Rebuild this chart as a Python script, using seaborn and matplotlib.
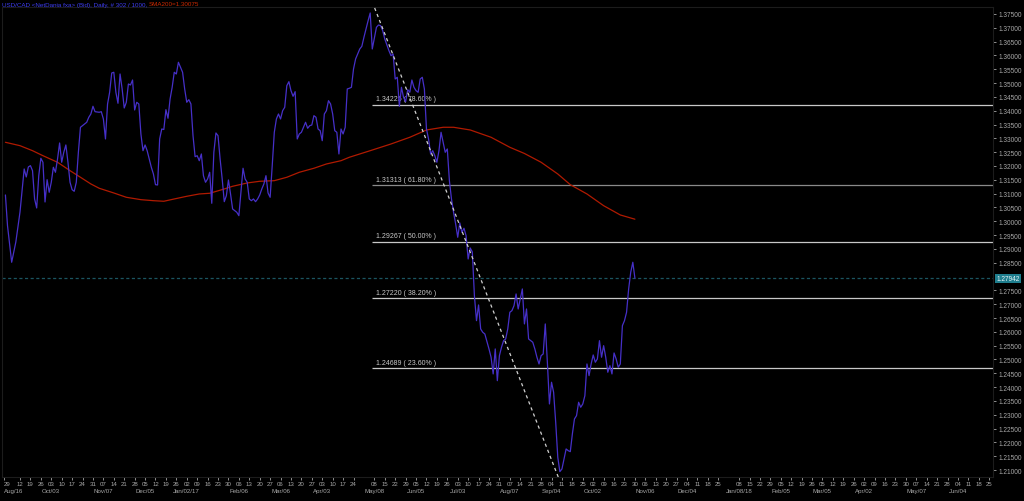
import numpy as np
import pandas as pd
import matplotlib
matplotlib.use('Agg')
import matplotlib.pyplot as plt
import seaborn as sns

# trading-day index (0 = Mon 2016-08-29) and daily close
bars = [3, 4, 6, 8, 10, 12, 13, 14, 15, 16, 17, 18, 19, 20, 21, 22, 23, 24, 25, 26,
        27, 28, 29, 30, 31, 32, 33, 34, 35, 36, 37, 38, 39, 41, 42, 43, 44, 45, 46, 48,
        49, 50, 51, 52, 53, 54, 55, 56, 57, 58, 59, 60, 61, 62, 63, 64, 65, 66, 67, 68,
        69, 70, 71, 72, 73, 74, 75, 76, 77, 78, 79, 80, 81, 82, 83, 84, 85, 86, 88, 89,
        90, 91, 92, 93, 94, 95, 96, 97, 98, 99, 100, 101, 102, 103, 104, 105, 106, 107, 108, 109,
        110, 111, 112, 113, 114, 115, 116, 117, 118, 119, 120, 121, 122, 123, 124, 125, 126, 127, 128, 129,
        130, 131, 132, 133, 134, 135, 136, 137, 138, 139, 140, 141, 142, 143, 144, 145, 146, 147, 148, 149,
        150, 151, 152, 153, 154, 155, 156, 157, 158, 159, 160, 161, 162, 163, 164, 165, 166, 167, 168, 169,
        170, 171, 173, 174, 175, 176, 177, 178, 179, 181, 182, 183, 184, 185, 187, 188, 189, 190, 191, 192,
        193, 194, 195, 196, 197, 198, 199, 200, 201, 202, 203, 204, 205, 206, 207, 208, 209, 210, 211, 212,
        213, 214, 215, 216, 217, 218, 219, 220, 221, 222, 223, 224, 225, 226, 227, 228, 229, 230, 231, 232,
        233, 235, 236, 237, 238, 239, 240, 241, 242, 243, 244, 245, 246, 247, 248, 249, 250, 251, 252, 253,
        254, 255, 256, 257, 258, 259, 260, 261, 262, 263, 264, 265, 266, 267, 268, 269, 270, 271, 272, 273,
        274, 275, 276, 277, 278, 279, 280, 281, 282, 283, 284, 285, 286, 287, 288, 289, 290, 291, 292, 293,
        294, 295, 296, 297, 298, 299, 300, 301, 302, 303, 304, 305]
closes = [1.30952, 1.29841, 1.28517, 1.29251, 1.30337, 1.31892, 1.31603, 1.31965, 1.32012, 1.31831,
          1.30807, 1.30481, 1.31650, 1.32279, 1.32135, 1.30698, 1.31505, 1.31049, 1.31411, 1.31954,
          1.31773, 1.32254, 1.32833, 1.32135, 1.32496, 1.32761, 1.32135, 1.31411, 1.31143, 1.31085,
          1.31411, 1.32496, 1.33401, 1.33520, 1.33582, 1.33763, 1.33882, 1.34161, 1.33965, 1.33944,
          1.33965, 1.33701, 1.32978, 1.34244, 1.34667, 1.35365, 1.35391, 1.34667, 1.34269, 1.35329,
          1.34787, 1.34099, 1.34305, 1.34967, 1.34931, 1.35112, 1.34027, 1.34305, 1.34244, 1.33159,
          1.32554, 1.32761, 1.32554, 1.32254, 1.31954, 1.31711, 1.31324, 1.31313, 1.32978, 1.33339,
          1.33320, 1.34038, 1.33727, 1.34425, 1.34848, 1.35391, 1.35329, 1.35753, 1.35391, 1.34787,
          1.34305, 1.34399, 1.34244, 1.33097, 1.32337, 1.32373, 1.32192, 1.32435, 1.31650, 1.31411,
          1.31530, 1.31773, 1.30651, 1.32496, 1.33195, 1.33097, 1.32254, 1.31530, 1.30709, 1.30926,
          1.31494, 1.30988, 1.30445, 1.30384, 1.30326, 1.30203, 1.31049, 1.31918, 1.31530, 1.31411,
          1.30807, 1.30745, 1.30807, 1.30709, 1.30807, 1.30952, 1.31169, 1.31350, 1.31650, 1.31024,
          1.30868, 1.32012, 1.33220, 1.33701, 1.33882, 1.33701, 1.34001, 1.34124, 1.34906, 1.35051,
          1.34725, 1.34522, 1.34689, 1.32978, 1.33159, 1.33220, 1.33401, 1.33582, 1.33365, 1.33459,
          1.33484, 1.33821, 1.33763, 1.33339, 1.33278, 1.32916, 1.33882, 1.34001, 1.34363, 1.34244,
          1.33882, 1.33278, 1.33220, 1.32435, 1.33339, 1.33159, 1.33401, 1.34787, 1.34812, 1.34848,
          1.35510, 1.35872, 1.36234, 1.36331, 1.36657, 1.36957, 1.37258, 1.37536, 1.36234, 1.37019,
          1.37102, 1.37077, 1.36896, 1.36596, 1.36172, 1.35991, 1.36053, 1.35148, 1.35210, 1.34161,
          1.34848, 1.34486, 1.34327, 1.34761, 1.34667, 1.35112, 1.34848, 1.34725, 1.34667, 1.35148,
          1.35210, 1.34787, 1.33339, 1.32978, 1.32435, 1.32554, 1.32373, 1.32135, 1.32554, 1.33220,
          1.32858, 1.32496, 1.32616, 1.31469, 1.30807, 1.30326, 1.29902, 1.29421, 1.29939, 1.29602,
          1.29747, 1.29479, 1.28636, 1.29034, 1.28889, 1.27308, 1.26404, 1.26972, 1.26104, 1.25984,
          1.25923, 1.25380, 1.25080, 1.24476, 1.25380, 1.24233, 1.25138, 1.25441, 1.25680, 1.25742,
          1.26104, 1.26708, 1.26766, 1.26947, 1.27370, 1.26827, 1.27189, 1.27551, 1.26285, 1.26827,
          1.25742, 1.25680, 1.25622, 1.25380, 1.25080, 1.24837, 1.25138, 1.25199, 1.26285, 1.24899,
          1.23390, 1.24175, 1.23813, 1.22728, 1.21462, 1.20941, 1.21039, 1.21400, 1.21762, 1.21700,
          1.21664, 1.22305, 1.22847, 1.22967, 1.23452, 1.23271, 1.23390, 1.23690, 1.24837, 1.24414,
          1.24837, 1.25163, 1.24899, 1.25018, 1.25680, 1.25080, 1.25499, 1.25080, 1.24537, 1.24776,
          1.24476, 1.25235, 1.25018, 1.24718, 1.24837, 1.26223, 1.26404, 1.26708, 1.27551, 1.28155,
          1.28517, 1.27942]

# 200-day simple moving average
sma_bars = [3, 10, 16, 21, 28, 34, 39, 44, 48, 55, 61, 68, 74, 79, 84, 90, 96, 101, 108, 112,
            119, 125, 132, 138, 144, 151, 157, 164, 168, 178, 188, 197, 205, 213, 218, 226, 236, 245, 252, 260,
            268, 274, 282, 290, 298, 305]
sma_vals = [1.32858, 1.32735, 1.32554, 1.32373, 1.32135, 1.31831, 1.31592, 1.31350, 1.31194, 1.31024,
            1.30868, 1.30782, 1.30745, 1.30724, 1.30807, 1.30904, 1.30988, 1.31013, 1.31169, 1.31266,
            1.31386, 1.31447, 1.31469, 1.31592, 1.31773, 1.31918, 1.32073, 1.32192, 1.32316, 1.32554,
            1.32797, 1.33039, 1.33303, 1.33401, 1.33401, 1.33303, 1.33039, 1.32677, 1.32453, 1.32135,
            1.31711, 1.31324, 1.30988, 1.30564, 1.30228, 1.30075]

# fibonacci retracement (swing high -> swing low)
fib_high_bar, fib_high = 179, 1.37938
fib_low_bar, fib_low = 269, 1.20597
fib_levels = [1.34225, 1.31313, 1.29267, 1.27220, 1.24689]
fib_pcts = ['78.60%', '61.80%', '50.00%', '38.20%', '23.60%']
fib_colors = ['#c8c8c8', '#8a8a8a', '#c8c8c8', '#c8c8c8', '#c8c8c8']

last_close = 1.27942
last_sma = 1.30075

# weekly axis labels, week 0 = 2016-08-29 (blank = no label drawn)
week_days = ['29', '', '12', '19', '26', '03', '10', '17', '24', '31',
             '07', '14', '21', '28', '05', '12', '19', '26', '02', '09',
             '16', '23', '30', '06', '13', '20', '27', '06', '13', '20',
             '27', '03', '10', '17', '24', '', '08', '15', '22', '29',
             '05', '12', '19', '26', '03', '10', '17', '24', '31', '07',
             '14', '21', '28', '04', '11', '18', '25', '02', '09', '16',
             '23', '30', '06', '13', '20', '27', '04', '11', '18', '25',
             '', '08', '15', '22', '29', '05', '12', '19', '26', '05',
             '12', '19', '26', '02', '09', '16', '23', '30', '07', '14',
             '21', '28', '04', '11', '18', '25']
month_weeks = [0, 5, 10, 14, 18, 23, 27, 31, 36, 40, 44, 49, 53, 57, 62, 66, 71, 75, 79, 83, 88, 92]
month_names = ['Aug/16', 'Oct/03', 'Nov/07', 'Dec/05', 'Jan/02/17', 'Feb/06', 'Mar/06', 'Apr/03',
               'May/08', 'Jun/05', 'Jul/03', 'Aug/07', 'Sep/04', 'Oct/02', 'Nov/06', 'Dec/04',
               'Jan/08/18', 'Feb/05', 'Mar/05', 'Apr/02', 'May/07', 'Jun/04']

df = pd.DataFrame({'bar': bars, 'close': closes})
sma_df = pd.DataFrame({'bar': sma_bars, 'sma': sma_vals})

sns.set_theme(style='dark', rc={'axes.facecolor': 'black', 'figure.facecolor': 'black',
                                'savefig.facecolor': 'black'})
plt.rcParams['font.family'] = ['Liberation Sans', 'DejaVu Sans']

fig = plt.figure(figsize=(10.24, 5.02), dpi=100)
ax = fig.add_axes([2 / 1024, 24 / 502, 991 / 1024, 470 / 502])

x_lo, x_hi = 1.36, 476.8
ax.set_xlim(x_lo, x_hi)
ax.set_ylim(1.20747, 1.37753)

# current price dashed line
ax.axhline(last_close, color='#1b5560', lw=0.9, dashes=(2.5, 2), zorder=1)

# fib levels
for lvl, pct, col in zip(fib_levels, fib_pcts, fib_colors):
    ax.hlines(lvl, fib_high_bar, x_hi, color=col, lw=0.9, zorder=2)
    ax.annotate(f'{lvl:.5f} ( {pct} )', xy=(fib_high_bar, lvl), xytext=(3, 1.6),
                textcoords='offset points', ha='left', va='bottom',
                fontsize=5.0, color='#c8c8c8')

sns.lineplot(data=sma_df, x='bar', y='sma', color='#b01a00', lw=0.9,
             estimator=None, sort=False, ax=ax, zorder=3)
sns.lineplot(data=df, x='bar', y='close', color='#4630c8', lw=0.9,
             estimator=None, sort=False, ax=ax, zorder=4)

ax.plot([fib_high_bar, fib_low_bar], [fib_high, fib_low], color='#d0d0d0',
        lw=0.9, dashes=(2.6, 2.6), zorder=5)

# y axis on the right
yt = [v for v in np.round(np.arange(1.210, 1.3751, 0.005), 3) if abs(v - 1.28) > 1e-6]
ax.yaxis.tick_right()
ax.set_yticks(yt)
ax.set_yticklabels([f'{v:.5f}' for v in yt])
ax.tick_params(axis='y', which='both', right=True, left=False, direction='out',
               length=2.5, width=0.6, colors='#a8a8a8', labelsize=4.7, pad=1.2)
ax.text(1.0035, last_close, f'{last_close:.5f}', transform=ax.get_yaxis_transform(),
        ha='left', va='center', fontsize=4.7, color='#e8f4f6',
        bbox=dict(boxstyle='square,pad=0.15', fc='#1f7e8e', ec='none'))

# x axis: weekly day-of-month ticks
def week_pos(w):
    p = 5 * w
    return x_lo + 0.9 if p < x_lo else p

pos = [week_pos(w) for w, d in enumerate(week_days) if d]
labs = [d for d in week_days if d]
ax.set_xticks(pos)
ax.set_xticklabels(labs)
ax.tick_params(axis='x', which='both', bottom=True, direction='out', length=2,
               width=0.6, colors='#a8a8a8', labelsize=4.4, pad=1.0)
ax.get_xticklabels()[0].set_horizontalalignment('left')

# month row under the first week of each month
sec = ax.secondary_xaxis('bottom')
sec.set_xticks([week_pos(w) for w in month_weeks])
sec.set_xticklabels(month_names)
sec.tick_params(axis='x', length=0, pad=8.2, colors='#a8a8a8', labelsize=4.4)
sec.spines['bottom'].set_visible(False)
sec.get_xticklabels()[0].set_horizontalalignment('left')

ax.set_xlabel('')
ax.set_ylabel('')
ax.grid(False)
for s in ax.spines.values():
    s.set_color('#1c1c1c')
    s.set_linewidth(0.8)

# header
t1 = fig.text(2 / 1024, 1 - 5 / 502, 'USD/CAD <NetDania fxa> (Bid), Daily, # 302 / 1000, ',
              color='#3d3df0', fontsize=4.5, va='center', ha='left')
fig.canvas.draw()
ax.annotate(f'SMA200={last_sma:.5f}', xy=(1, 0.5), xycoords=t1, va='center', ha='left',
            color='#cc2a00', fontsize=4.5, annotation_clip=False)

fig.savefig('out.png', dpi=100, facecolor='black')
